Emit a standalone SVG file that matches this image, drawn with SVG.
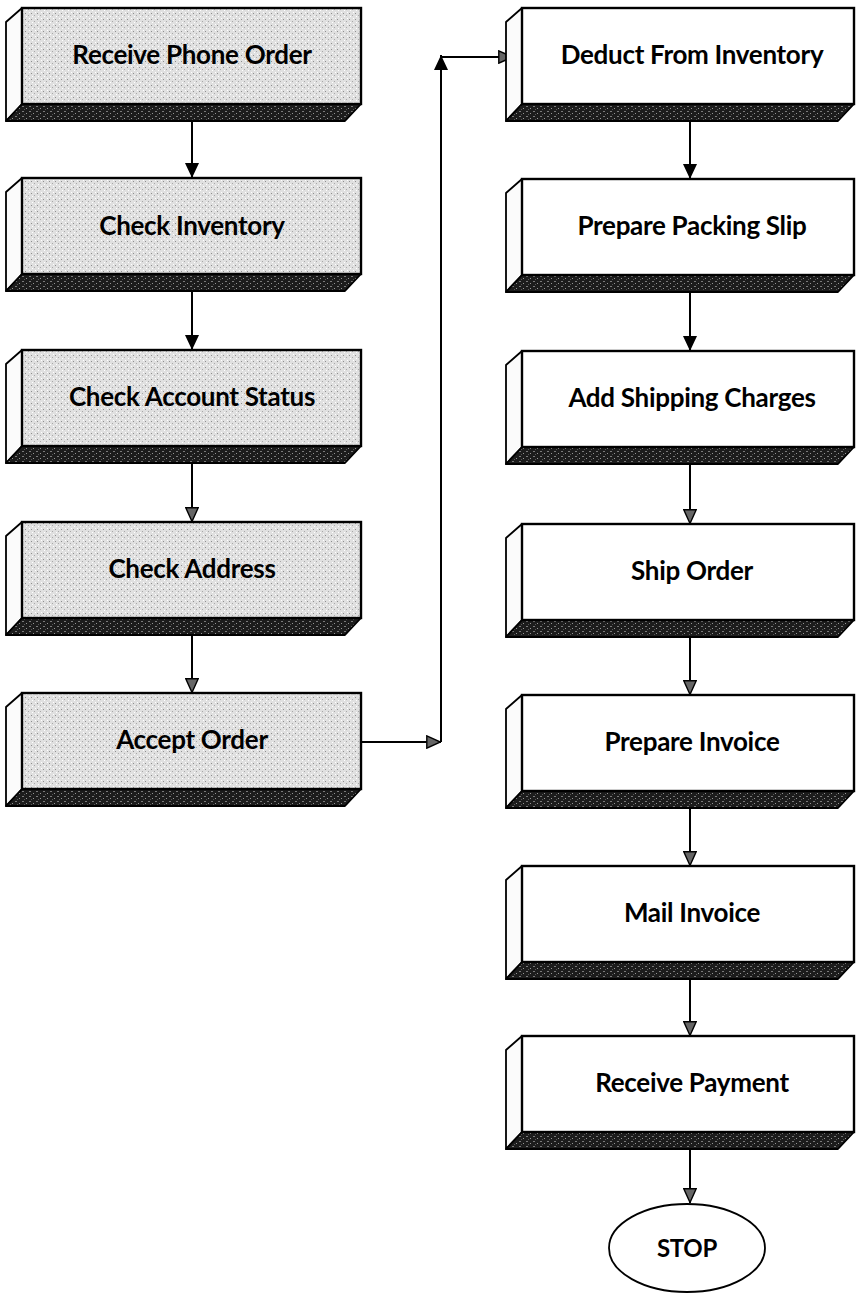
<svg xmlns="http://www.w3.org/2000/svg" width="859" height="1295" viewBox="0 0 859 1295">
<style>
.bg{fill:#ffffff}
.frontL{fill:url(#lightStipple);stroke:#000;stroke-width:2.4}
.frontR{fill:#ffffff;stroke:#000;stroke-width:2.4}
.side{fill:#fbfbfb;stroke:#000;stroke-width:1.8;stroke-linejoin:round}
.slab{fill:url(#darkStipple);stroke:#000;stroke-width:1.8;stroke-linejoin:round}
.lbl{font-family:Lato,"Open Sans","Liberation Sans",sans-serif;font-weight:700;font-size:26px;fill:#000;text-anchor:middle;letter-spacing:-0.3px}
.conn{fill:none;stroke:#000;stroke-width:2}
.stop{fill:#fff;stroke:#000;stroke-width:1.8}
</style>
<defs>
<pattern id="lightStipple" width="6" height="6" patternUnits="userSpaceOnUse">
<rect width="6" height="6" fill="#e0e0e0"/>
<rect x="1" y="1" width="1" height="1" fill="#8f8f8f"/>
<rect x="4" y="3" width="1" height="1" fill="#a8a8a8"/>
<rect x="2" y="4" width="1" height="1" fill="#ffffff"/>
<rect x="5" y="0" width="1" height="1" fill="#ffffff"/>
</pattern>
<pattern id="darkStipple" width="7" height="5" patternUnits="userSpaceOnUse">
<rect width="7" height="5" fill="#1c1c1c"/>
<rect x="1" y="1" width="2" height="1" fill="#7a7a7a"/>
<rect x="5" y="3" width="1" height="1" fill="#959595"/>
<rect x="3" y="4" width="1" height="1" fill="#555"/>
</pattern>
<marker id="ah" viewBox="0 0 15 14" refX="15" refY="7" markerWidth="15" markerHeight="14" markerUnits="userSpaceOnUse" orient="auto">
<path d="M0,0 L15,7 L0,14 z" fill="#000"/>
</marker>
<marker id="ahg" viewBox="0 0 15 14" refX="15" refY="7" markerWidth="15" markerHeight="14" markerUnits="userSpaceOnUse" orient="auto">
<path d="M0.8,0.8 L14.5,7 L0.8,13.2 z" fill="#666" stroke="#000" stroke-width="1.4"/>
</marker>
</defs>
<rect class="bg" width="859" height="1295"/>

<g id="connectors">
<line class="conn" x1="192" y1="121" x2="192" y2="178" marker-end="url(#ah)"/>
<line class="conn" x1="192" y1="291" x2="192" y2="350" marker-end="url(#ah)"/>
<line class="conn" x1="192" y1="463" x2="192" y2="522" marker-end="url(#ahg)"/>
<line class="conn" x1="192" y1="635" x2="192" y2="693" marker-end="url(#ahg)"/>
<line class="conn" x1="361" y1="742" x2="441" y2="742" marker-end="url(#ahg)"/>
<line class="conn" x1="441" y1="742" x2="441" y2="55" marker-end="url(#ah)"/>
<line class="conn" x1="441" y1="57" x2="513" y2="57" marker-end="url(#ahg)"/>
<line class="conn" x1="690" y1="121" x2="690" y2="179" marker-end="url(#ah)"/>
<line class="conn" x1="690" y1="292" x2="690" y2="351" marker-end="url(#ah)"/>
<line class="conn" x1="690" y1="464" x2="690" y2="524" marker-end="url(#ahg)"/>
<line class="conn" x1="690" y1="637" x2="690" y2="695" marker-end="url(#ahg)"/>
<line class="conn" x1="690" y1="808" x2="690" y2="866" marker-end="url(#ahg)"/>
<line class="conn" x1="690" y1="979" x2="690" y2="1036" marker-end="url(#ahg)"/>
<line class="conn" x1="690" y1="1149" x2="690" y2="1203" marker-end="url(#ahg)"/>
</g>

<g id="n1">
<polygon class="side" points="22,8 6,22 6,121 22,104"/>
<polygon class="slab" points="22,104 361,104 345,121 6,121"/>
<rect class="frontL" x="22" y="8" width="339" height="96"/>
<text class="lbl" x="192" y="64">Receive Phone Order</text>
</g>
<g id="n2">
<polygon class="side" points="22,178 6,192 6,291 22,274"/>
<polygon class="slab" points="22,274 361,274 345,291 6,291"/>
<rect class="frontL" x="22" y="178" width="339" height="96"/>
<text class="lbl" x="192" y="235">Check Inventory</text>
</g>
<g id="n3">
<polygon class="side" points="22,350 6,364 6,463 22,446"/>
<polygon class="slab" points="22,446 361,446 345,463 6,463"/>
<rect class="frontL" x="22" y="350" width="339" height="96"/>
<text class="lbl" x="192" y="406">Check Account Status</text>
</g>
<g id="n4">
<polygon class="side" points="22,522 6,536 6,635 22,618"/>
<polygon class="slab" points="22,618 361,618 345,635 6,635"/>
<rect class="frontL" x="22" y="522" width="339" height="96"/>
<text class="lbl" x="192" y="578">Check Address</text>
</g>
<g id="n5">
<polygon class="side" points="22,693 6,707 6,806 22,789"/>
<polygon class="slab" points="22,789 361,789 345,806 6,806"/>
<rect class="frontL" x="22" y="693" width="339" height="96"/>
<text class="lbl" x="192" y="749">Accept Order</text>
</g>

<g id="n6">
<polygon class="side" points="522,8 506,22 506,121 522,104"/>
<polygon class="slab" points="522,104 854,104 838,121 506,121"/>
<rect class="frontR" x="522" y="8" width="332" height="96"/>
<text class="lbl" x="692" y="64">Deduct From Inventory</text>
</g>
<g id="n7">
<polygon class="side" points="522,179 506,193 506,292 522,275"/>
<polygon class="slab" points="522,275 854,275 838,292 506,292"/>
<rect class="frontR" x="522" y="179" width="332" height="96"/>
<text class="lbl" x="692" y="235">Prepare Packing Slip</text>
</g>
<g id="n8">
<polygon class="side" points="522,351 506,365 506,464 522,447"/>
<polygon class="slab" points="522,447 854,447 838,464 506,464"/>
<rect class="frontR" x="522" y="351" width="332" height="96"/>
<text class="lbl" x="692" y="407">Add Shipping Charges</text>
</g>
<g id="n9">
<polygon class="side" points="522,524 506,538 506,637 522,620"/>
<polygon class="slab" points="522,620 854,620 838,637 506,637"/>
<rect class="frontR" x="522" y="524" width="332" height="96"/>
<text class="lbl" x="692" y="580">Ship Order</text>
</g>
<g id="n10">
<polygon class="side" points="522,695 506,709 506,808 522,791"/>
<polygon class="slab" points="522,791 854,791 838,808 506,808"/>
<rect class="frontR" x="522" y="695" width="332" height="96"/>
<text class="lbl" x="692" y="751">Prepare Invoice</text>
</g>
<g id="n11">
<polygon class="side" points="522,866 506,880 506,979 522,962"/>
<polygon class="slab" points="522,962 854,962 838,979 506,979"/>
<rect class="frontR" x="522" y="866" width="332" height="96"/>
<text class="lbl" x="692" y="922">Mail Invoice</text>
</g>
<g id="n12">
<polygon class="side" points="522,1036 506,1050 506,1149 522,1132"/>
<polygon class="slab" points="522,1132 854,1132 838,1149 506,1149"/>
<rect class="frontR" x="522" y="1036" width="332" height="96"/>
<text class="lbl" x="692" y="1092">Receive Payment</text>
</g>
<g id="n13">
<ellipse class="stop" cx="687" cy="1248" rx="78" ry="44"/>
<text class="lbl" x="687" y="1257" style="font-size:24px">STOP</text>
</g>
</svg>
